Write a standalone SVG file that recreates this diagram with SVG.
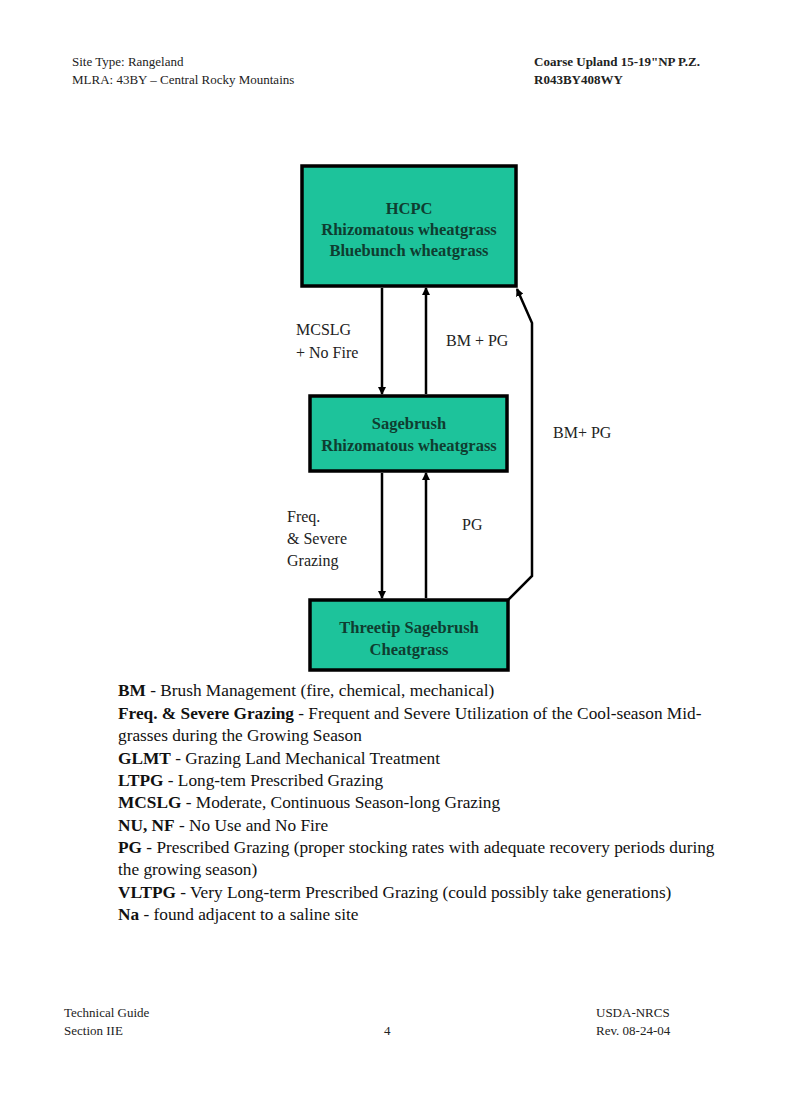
<svg xmlns="http://www.w3.org/2000/svg" width="800" height="1108" viewBox="0 0 800 1108">
<style>
.hd{font-family:"Liberation Serif",serif;font-size:13px;fill:#222}
.hb{font-family:"Liberation Serif",serif;font-size:13px;font-weight:bold;fill:#222}
.box{fill:#1dc39b;stroke:#000;stroke-width:3.5}
.nt{font-family:"Liberation Serif",serif;font-weight:bold;font-size:16.5px;fill:#0f3d30;text-anchor:middle}
.lb{font-family:"Liberation Serif",serif;font-size:16px;fill:#222}
.lg{font-family:"Liberation Serif",serif;font-size:17.3px;fill:#111}
.c{stroke:#000;stroke-width:2.5;fill:none}
</style>
<defs><marker id="a" markerWidth="8" markerHeight="8" refX="7" refY="4" orient="auto" markerUnits="userSpaceOnUse"><path d="M0,0L8,4L0,8z" fill="#000"/></marker></defs>
<rect width="800" height="1108" fill="#fff"/>
<text class="hd" x="72" y="66">Site Type:  Rangeland</text>
<text class="hd" x="72" y="84">MLRA:  43BY – Central Rocky Mountains</text>
<text class="hb" x="534" y="66">Coarse Upland 15-19"NP P.Z.</text>
<text class="hb" x="534" y="84">R043BY408WY</text>
<g id="hcpc"><rect class="box" x="302" y="166" width="214" height="120"/>
<text class="nt" x="409" y="214" font-size="19">HCPC</text>
<text class="nt" x="409" y="235">Rhizomatous wheatgrass</text>
<text class="nt" x="409" y="256">Bluebunch wheatgrass</text></g>
<g id="sage"><rect class="box" x="310" y="396" width="197" height="75"/>
<text class="nt" x="409" y="429">Sagebrush</text>
<text class="nt" x="409" y="451">Rhizomatous wheatgrass</text></g>
<g id="three"><rect class="box" x="310" y="600" width="198" height="70"/>
<text class="nt" x="409" y="633">Threetip Sagebrush</text>
<text class="nt" x="409" y="655">Cheatgrass</text></g>
<g id="connectors">
<line class="c" x1="382" y1="288" x2="382" y2="394" marker-end="url(#a)"/>
<line class="c" x1="426" y1="394" x2="426" y2="288" marker-end="url(#a)"/>
<line class="c" x1="382" y1="473" x2="382" y2="598" marker-end="url(#a)"/>
<line class="c" x1="426" y1="598" x2="426" y2="473" marker-end="url(#a)"/>
<path class="c" d="M508,600 L532,576 L532,323 L517,289" marker-end="url(#a)"/>
<text class="lb" x="296" y="335">MCSLG</text>
<text class="lb" x="296" y="358">+ No Fire</text>
<text class="lb" x="446" y="346">BM + PG</text>
<text class="lb" x="553" y="438">BM+ PG</text>
<text class="lb" x="287" y="522">Freq.</text>
<text class="lb" x="287" y="544">&amp; Severe</text>
<text class="lb" x="287" y="566">Grazing</text>
<text class="lb" x="462" y="530">PG</text>
</g>
<g class="lg">
<text x="118" y="696"><tspan font-weight="bold">BM</tspan> - Brush Management (fire, chemical, mechanical)</text>
<text x="118" y="719"><tspan font-weight="bold">Freq. &amp; Severe Grazing</tspan> - Frequent and Severe Utilization of the Cool-season Mid-</text>
<text x="118" y="741">grasses during the Growing Season</text>
<text x="118" y="764"><tspan font-weight="bold">GLMT</tspan> - Grazing Land Mechanical Treatment</text>
<text x="118" y="786"><tspan font-weight="bold">LTPG</tspan> - Long-tem Prescribed Grazing</text>
<text x="118" y="808"><tspan font-weight="bold">MCSLG</tspan> - Moderate, Continuous Season-long Grazing</text>
<text x="118" y="831"><tspan font-weight="bold">NU, NF</tspan> - No Use and No Fire</text>
<text x="118" y="853"><tspan font-weight="bold">PG</tspan> - Prescribed Grazing (proper stocking rates with adequate recovery periods during</text>
<text x="118" y="875">the growing season)</text>
<text x="118" y="898"><tspan font-weight="bold">VLTPG</tspan> - Very Long-term Prescribed Grazing (could possibly take generations)</text>
<text x="118" y="920"><tspan font-weight="bold">Na</tspan> - found adjacent to a saline site</text>
</g>
<text class="hd" x="64" y="1017">Technical Guide</text>
<text class="hd" x="64" y="1035">Section IIE</text>
<text class="hd" x="384" y="1035">4</text>
<text class="hd" x="596" y="1017">USDA-NRCS</text>
<text class="hd" x="596" y="1035">Rev. 08-24-04</text>
</svg>
